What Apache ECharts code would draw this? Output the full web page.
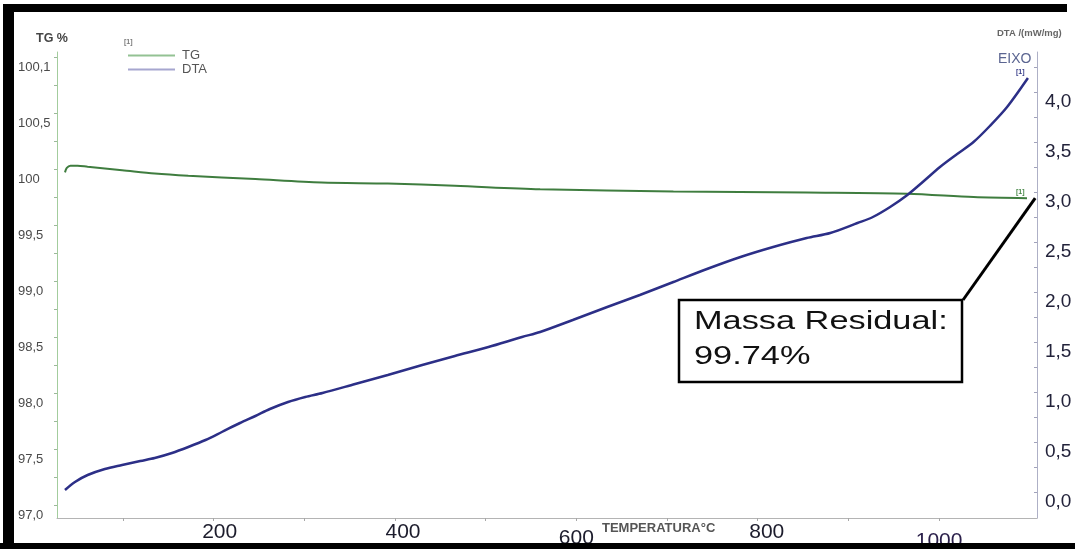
<!DOCTYPE html>
<html>
<head>
<meta charset="utf-8">
<script src="https://cdn.jsdelivr.net/npm/echarts@6/dist/echarts.min.js"></script>
<style>
  html, body { margin: 0; padding: 0; background: #ffffff; }
  #chart { width: 1075px; height: 549px; }
</style>
</head>
<body>
<div id="chart"></div>
<script>
// Thermogravimetric curve (TG, mass %) against temperature (°C)
const tgTemp = [36, 38, 42, 50, 61, 99, 135, 172, 246, 319, 392, 466, 560, 707, 854, 965, 1038, 1097];
const tgMass = [99.97, 100.01, 100.03, 100.03, 100.02, 99.99, 99.96, 99.94, 99.91, 99.88, 99.87, 99.85, 99.82, 99.80, 99.79, 99.78, 99.75, 99.74];

// Differential thermal analysis signal (mW/mg) against temperature (°C)
const dtaTemp = [36, 47, 61, 80, 99, 119, 135, 154, 172, 191, 209, 229, 246, 262, 282, 301, 320, 356, 392, 430,
                 466, 503, 540, 560, 596, 634, 670, 707, 744, 781, 817, 854, 880, 910, 927, 946, 965, 982,
                 1001, 1020, 1038, 1056, 1075, 1098];
const dtaSignal = [0.02, 0.10, 0.17, 0.23, 0.27, 0.31, 0.34, 0.39, 0.45, 0.52, 0.60, 0.69, 0.76, 0.83, 0.90, 0.95, 0.99, 1.08, 1.17, 1.27,
                   1.36, 1.45, 1.55, 1.60, 1.72, 1.85, 1.97, 2.10, 2.23, 2.35, 2.45, 2.54, 2.59, 2.69, 2.75, 2.85, 2.97, 3.10,
                   3.25, 3.38, 3.50, 3.66, 3.85, 4.14];

// Axis ticks and their printed labels
const tempTicks = [100, 200, 300, 400, 500, 600, 700, 800, 900, 1000];
const tempLabels = [200, 400, 600, 800, 1000];
const tgMinorTicks = [97, 97.25, 97.5, 97.75, 98, 98.25, 98.5, 98.75, 99, 99.25, 99.5, 99.75, 100, 100.25, 100.5, 100.75, 101];
const tgTickValues = [97, 97.5, 98, 98.5, 99, 99.5, 100, 100.5, 101];
const tgTickLabels = ['97,0', '97,5', '98,0', '98,5', '99,0', '99,5', '100', '100,5', '100,1'];
const dtaMinorTicks = [0, 0.25, 0.5, 0.75, 1, 1.25, 1.5, 1.75, 2, 2.25, 2.5, 2.75, 3, 3.25, 3.5, 3.75, 4, 4.25];
const dtaTickValues = [0, 0.5, 1, 1.5, 2, 2.5, 3, 3.5, 4];
const dtaTickLabels = ['0,0', '0,5', '1,0', '1,5', '2,0', '2,5', '3,0', '3,5', '4,0'];

const residualMass = tgMass[tgMass.length - 1];
const residualTemp = 1106;

function pickLabel(values, labels) {
  return function (v) {
    for (let i = 0; i < values.length; i++) {
      if (Math.abs(v - values[i]) < 1e-6) return labels[i];
    }
    return '';
  };
}

// temperature labels sit slightly off their ticks, as printed by the instrument software
function tempLabel(v) {
  const t = Math.round(v);
  const style = { 200: 'r6', 400: 'r8', 600: 'd4', 800: 'r9', 1000: 'd9' }[t] || 'n';
  return '{' + style + '|' + t + '}';
}

const zip = (a, b) => a.map((x, i) => [x, b[i]]);

const chart = echarts.init(document.getElementById('chart'), null, { renderer: 'canvas' });

const FONT = 'Liberation Sans, Arial, sans-serif';
const tempLabelRich = {
  n: { fontSize: 21, color: '#1c1c2c' },
  r6: { fontSize: 21, color: '#1c1c2c', padding: [0, 0, 0, 12] },
  r8: { fontSize: 21, color: '#1c1c2c', padding: [0, 0, 0, 16] },
  r9: { fontSize: 21, color: '#1c1c2c', padding: [0, 0, 0, 18] },
  d4: { fontSize: 21, color: '#1c1c2c', padding: [6, 0, 0, 0] },
  d9: { fontSize: 21, color: '#2a1f4a', padding: [9, 0, 0, 0] }
};

chart.setOption({
  backgroundColor: '#ffffff',
  animation: false,
  textStyle: { fontFamily: FONT },
  grid: { left: 57, right: 38, top: 52, bottom: 31, containLabel: false, outerBoundsMode: 'none' },
  legend: {
    left: 123,
    top: 44,
    orient: 'vertical',
    icon: 'rect',
    itemWidth: 47,
    itemHeight: 2,
    itemGap: 1,
    selectedMode: false,
    textStyle: { fontSize: 13, color: '#555555', padding: [0, 0, 0, 2] },
    data: [
      { name: 'TG', itemStyle: { color: '#93c293' } },
      { name: 'DTA', itemStyle: { color: '#a6a6cf' } }
    ]
  },
  xAxis: {
    type: 'value',
    min: 27.2,
    max: 1108,
    axisLine: { show: true, onZero: false, lineStyle: { color: '#b4b4b4', width: 1 } },
    axisTick: { show: true, customValues: tempTicks, length: 3, lineStyle: { color: '#a8a8a8' } },
    axisLabel: {
      customValues: tempLabels,
      formatter: tempLabel,
      rich: tempLabelRich,
      fontSize: 21,
      color: '#1c1c2c',
      margin: 4
    },
    splitLine: { show: false }
  },
  yAxis: [
    {
      type: 'value',
      position: 'left',
      min: 96.884,
      max: 101.045,
      name: 'TG %',
      nameLocation: 'end',
      nameGap: 7,
      nameTextStyle: { fontSize: 12.5, fontWeight: 'bold', color: '#454545', padding: [0, 10, 0, 0] },
      axisLine: { show: true, onZero: false, lineStyle: { color: '#a3cc9d', width: 1 } },
      axisTick: { show: true, customValues: tgMinorTicks, length: 3, lineStyle: { color: '#9cb89a' } },
      axisLabel: {
        customValues: tgTickValues,
        formatter: pickLabel(tgTickValues, tgTickLabels),
        fontSize: 13,
        color: '#4a4a4a',
        align: 'left',
        verticalAlign: 'top',
        margin: 39,
        padding: [4, 0, 0, 0]
      },
      splitLine: { show: false }
    },
    {
      type: 'value',
      position: 'right',
      min: -0.26,
      max: 4.40,
      axisLine: { show: true, onZero: false, lineStyle: { color: '#aeb0c6', width: 1 } },
      axisTick: { show: true, inside: true, customValues: dtaMinorTicks, length: 3, lineStyle: { color: '#a0a2ba' } },
      axisLabel: {
        customValues: dtaTickValues,
        formatter: pickLabel(dtaTickValues, dtaTickLabels),
        fontSize: 19,
        color: '#22223a',
        verticalAlign: 'top',
        margin: 8,
        padding: [0, 0, 0, 0]
      },
      splitLine: { show: false }
    }
  ],
  series: [
    {
      name: 'TG',
      type: 'line',
      yAxisIndex: 0,
      data: zip(tgTemp, tgMass),
      symbol: 'none',
      smooth: 0.3,
      lineStyle: { color: '#3f7d3f', width: 2 },
      itemStyle: { color: '#3f7d3f' },
      markLine: {
        silent: true,
        symbol: ['none', 'none'],
        label: { show: false },
        lineStyle: { color: '#000000', width: 3, type: 'solid' },
        data: [[{ coord: [residualTemp, residualMass] }, { x: 963, y: 300 }]]
      }
    },
    {
      name: 'DTA',
      type: 'line',
      yAxisIndex: 1,
      data: zip(dtaTemp, dtaSignal),
      symbol: 'none',
      smooth: 0.3,
      lineStyle: { color: '#2c2f87', width: 2.5 },
      itemStyle: { color: '#2c2f87' }
    }
  ],
  graphic: [
    // residual mass call-out
    {
      type: 'rect', z: 50,
      shape: { x: 679, y: 300, width: 283, height: 82 },
      style: { fill: '#ffffff', stroke: '#000000', lineWidth: 2.5 }
    },
    {
      type: 'text', z: 51, x: 694, y: 322, scaleX: 1.32,
      style: { text: 'Massa Residual:', font: '26px ' + FONT, fill: '#111111', align: 'left', verticalAlign: 'middle' }
    },
    {
      type: 'text', z: 51, x: 694, y: 357, scaleX: 1.32,
      style: { text: residualMass.toFixed(2) + '%', font: '26px ' + FONT, fill: '#111111', align: 'left', verticalAlign: 'middle' }
    },
    // temperature axis caption
    {
      type: 'text', z: 20, x: 602, y: 528,
      style: { text: 'TEMPERATURA°C', font: 'bold 13px ' + FONT, fill: '#555555', align: 'left', verticalAlign: 'middle' }
    },
    // small curve tags and axis captions
    {
      type: 'text', z: 20, x: 124, y: 42,
      style: { text: '[1]', font: 'bold 7px ' + FONT, fill: '#7a7a7a', align: 'left', verticalAlign: 'middle' }
    },
    {
      type: 'text', z: 20, x: 1016, y: 72,
      style: { text: '[1]', font: 'bold 7px ' + FONT, fill: '#3a3f8a', align: 'left', verticalAlign: 'middle' }
    },
    {
      type: 'text', z: 20, x: 1016, y: 192,
      style: { text: '[1]', font: 'bold 7px ' + FONT, fill: '#4a8a4a', align: 'left', verticalAlign: 'middle' }
    },
    {
      type: 'text', z: 20, x: 997, y: 33,
      style: { text: 'DTA /(mW/mg)', font: 'bold 9.5px ' + FONT, fill: '#666666', align: 'left', verticalAlign: 'middle' }
    },
    {
      type: 'text', z: 20, x: 998, y: 59,
      style: { text: 'EIXO', font: '14px ' + FONT, fill: '#5b6591', align: 'left', verticalAlign: 'middle' }
    },
    // black frame
    { type: 'rect', z: 100, shape: { x: 5, y: 4, width: 1062, height: 8 }, style: { fill: '#000000' } },
    { type: 'rect', z: 100, shape: { x: 3, y: 4, width: 11, height: 545 }, style: { fill: '#000000' } },
    { type: 'rect', z: 100, shape: { x: 0, y: 543, width: 1075, height: 6 }, style: { fill: '#000000' } }
  ]
});
</script>
</body>
</html>
